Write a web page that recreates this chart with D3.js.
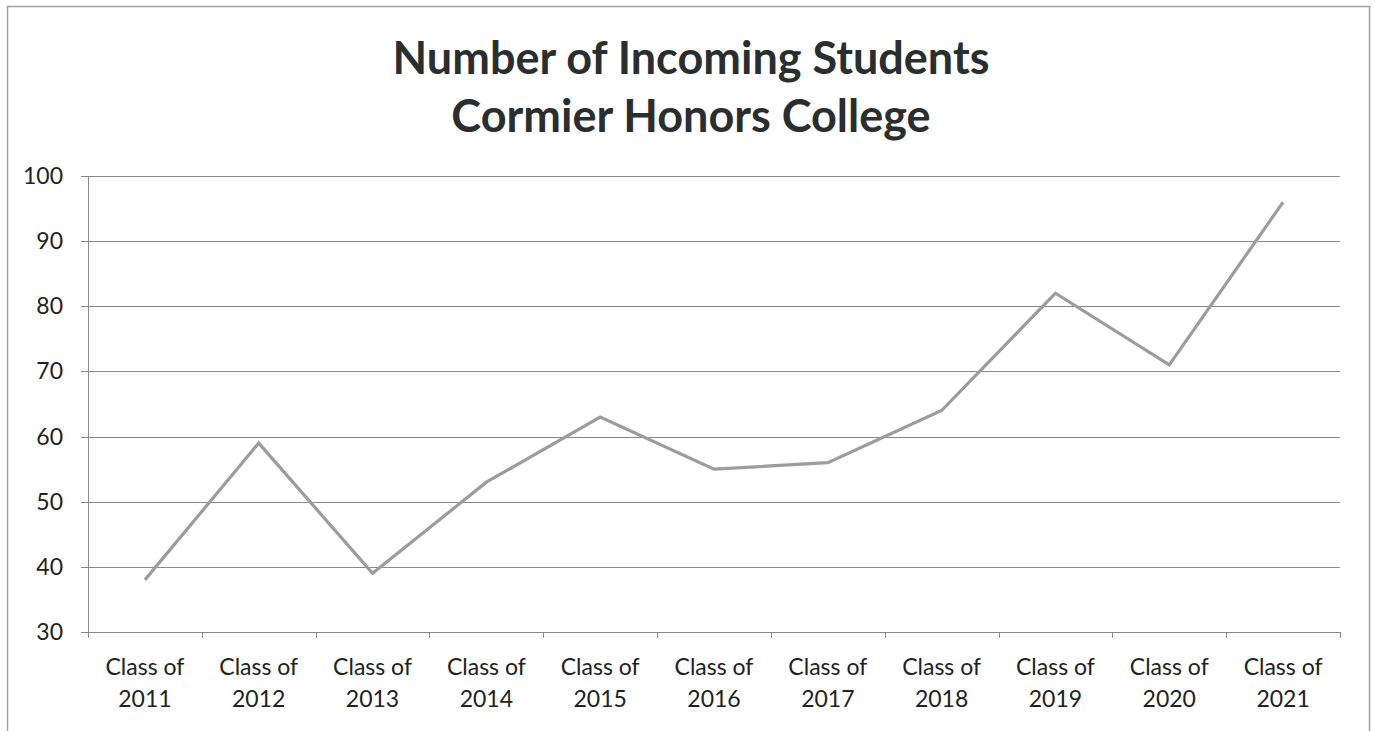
<!DOCTYPE html>
<html><head><meta charset="utf-8">
<script src="https://cdn.jsdelivr.net/npm/d3@7"></script>
<style>body{margin:0;background:#fff}svg{display:block}</style>
</head><body>
<svg id="c" width="1375" height="731"></svg>
<script>
const categories = ["2011","2012","2013","2014","2015","2016","2017","2018","2019","2020","2021"];
const values = [38, 59, 39, 53, 63, 55, 56, 64, 82, 71, 96];
const yTicks = [30, 40, 50, 60, 70, 80, 90, 100];
const titleLines = ["Number of Incoming Students", "Cormier Honors College"];

const svg = d3.select("#c");
const font = "Lato, 'Open Sans', sans-serif";
svg.append("rect").attr("x",7.5).attr("y",6.5).attr("width",1362).attr("height",740)
  .attr("fill","#fff").attr("stroke","#a0a0a0").attr("stroke-width",1.5);

const L = 88, R = 1340, T = 176, B = 632;
const x = d3.scaleBand().domain(categories).range([L, R]);
const y = d3.scaleLinear().domain([30, 100]).range([B, T]);

const g = svg.append("g");
g.selectAll("line.grid").data(yTicks).join("line")
  .attr("x1", L - 7).attr("x2", R)
  .attr("y1", d => Math.round(y(d)) + 0.5).attr("y2", d => Math.round(y(d)) + 0.5)
  .attr("stroke", "#8a8a8a").attr("stroke-width", 1);
g.append("line").attr("x1", L + 0.5).attr("x2", L + 0.5).attr("y1", T).attr("y2", B)
  .attr("stroke", "#8a8a8a");
const bounds = categories.map(c => x(c)).concat([R]);
g.selectAll("line.xt").data(bounds).join("line")
  .attr("x1", d => Math.round(d) + 0.5).attr("x2", d => Math.round(d) + 0.5)
  .attr("y1", B).attr("y2", B + 6).attr("stroke", "#8a8a8a");
g.selectAll("text.yl").data(yTicks).join("text")
  .attr("x", 63).attr("y", d => y(d) + 8).attr("text-anchor", "end")
  .attr("font-family", font).attr("font-size", 23).attr("fill", "#222").text(d => d);
const xl = g.selectAll("text.xl").data(categories).join("text")
  .attr("text-anchor", "middle").attr("font-family", font).attr("font-size", 23).attr("fill", "#222");
xl.append("tspan").attr("x", d => x(d) + x.bandwidth()/2).attr("y", 675).text("Class of");
xl.append("tspan").attr("x", d => x(d) + x.bandwidth()/2).attr("y", 707).text(d => d);

const line = d3.line().x((d,i) => x(categories[i]) + x.bandwidth()/2).y(d => y(d));
g.append("path").datum(values).attr("d", line).attr("fill", "none")
  .attr("stroke", "#9c9c9c").attr("stroke-width", 3.2).attr("stroke-linejoin", "miter");

svg.selectAll("text.title").data(titleLines).join("text")
  .attr("x", 691).attr("y", (d,i) => 74 + i*58).attr("text-anchor", "middle")
  .attr("font-family", font).attr("font-weight", "bold").attr("font-size", 45)
  .attr("fill", "#2a2e2e").text(d => d);
</script>
</body></html>
